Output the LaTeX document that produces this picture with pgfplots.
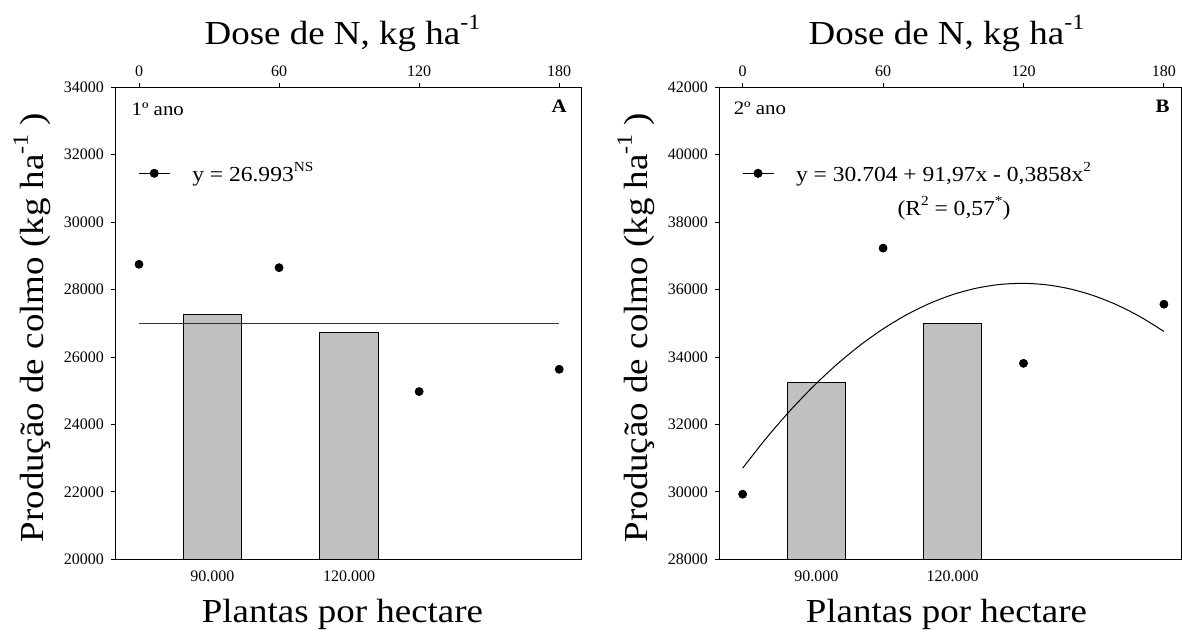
\documentclass[border=0pt]{standalone}
\usepackage{fontspec}
\setmainfont{Liberation Serif}
\newfontfamily\wfont[FakeStretch=1.1]{Liberation Serif}
\usepackage{pgfplots}
\pgfplotsset{compat=1.18}
\definecolor{barfill}{RGB}{192,192,192}
\newcommand\sups[1]{\raisebox{0.45em}{\scalebox{0.65}{#1}}}
\tikzset{biglab/.style={font=\wfont\fontsize{16.8}{20}\selectfont}}
\pgfplotsset{
  panel/.style={scale only axis, width=#1, height=236pt, anchor=south west,
    axis line style={line width=0.5pt, black},
    tick style={line width=0.5pt, black},
    tick align=outside, major tick length=2pt,
    ticklabel style={font=\fontsize{8}{9}\selectfont},
    /pgf/number format/assume math mode=true,
    /pgf/number format/1000 sep={},
    scaled y ticks=false, scaled x ticks=false,
  },
  leg/.style={legend style={at={(rel axis cs:0.049,0.8178)}, anchor=west, draw=none, fill=none,
      font=\wfont\fontsize{10.7}{13}\selectfont, inner sep=0pt, nodes={inner sep=0pt},
      /tikz/every odd column/.append style={column sep=11pt}},
    legend cell align=left,
    legend image code/.code={\draw[mark repeat=2,mark phase=2,##1] plot coordinates {(0pt,0pt)(7.75pt,0pt)(15.5pt,0pt)};}},
}
\begin{document}
\begin{tikzpicture}[x=1pt,y=1pt]
\useasboundingbox (0,0) rectangle (591,316.5);
% ---------- Panel A: bars
\begin{axis}[panel=233.3pt, at={(57.5pt,36.85pt)},
  xmin=0.2865, xmax=3.702, ymin=20000, ymax=34000,
  ytick={20000,22000,...,34000}, ytick pos=left,
  xtick={1,2}, xticklabels={90.000,120.000}, xtick pos=left, x tick style={draw=none},
  xlabel={Plantas por hectare}, xlabel style={biglab, at={(axis description cs:0.4875,-0.134)}, anchor=base},
  ylabel={Produção de colmo (kg ha\sups{-1} )},
  ylabel style={biglab, at={(axis description cs:-0.1543,0.491)}, anchor=base}]
\addplot[ybar, bar width=29.2pt, fill=barfill, draw=black, line width=0.5pt] coordinates {(1,27261) (2,26730)};
\end{axis}
% ---------- Panel A: dose
\begin{axis}[panel=233.3pt, at={(57.5pt,36.85pt)}, leg, clip=false,
  xmin=-10.28, xmax=189.6, ymin=20000, ymax=34000,
  axis x line*=top, axis y line=none,
  xtick={0,60,120,180}]
\addlegendimage{black, line width=0.5pt, mark=*, mark size=2pt}
\addlegendentry{y = 26.993\sups{NS}}
\addplot[black!80, line width=0.5pt, forget plot] coordinates {(0,26993) (180,26993)};
\addplot[only marks, mark=*, mark size=2pt, black, forget plot] coordinates {(0,28750) (60,28650) (120,24975) (180,25636)};
\node[biglab, anchor=base] at (rel axis cs:0.4875,1.0905) {Dose de N, kg ha\sups{-1}};
\node[anchor=base west, font=\wfont\fontsize{9.5}{11}\selectfont] at (rel axis cs:0.0204,0.941) {1º ano};
\node[anchor=base east, font=\wfont\fontsize{9.5}{11}\selectfont\bfseries] at (rel axis cs:0.983,0.9456) {A};
\end{axis}
% ---------- Panel B: bars
\begin{axis}[panel=231pt, at={(359.5pt,36.85pt)},
  xmin=0.2864, xmax=3.675, ymin=28000, ymax=42000,
  ytick={28000,30000,...,42000}, ytick pos=left,
  xtick={1,2}, xticklabels={90.000,120.000}, xtick pos=left, x tick style={draw=none},
  xlabel={Plantas por hectare}, xlabel style={biglab, at={(axis description cs:0.4924,-0.134)}, anchor=base},
  ylabel={Produção de colmo (kg ha\sups{-1} )},
  ylabel style={biglab, at={(axis description cs:-0.1558,0.491)}, anchor=base}]
\addplot[ybar, bar width=29pt, fill=barfill, draw=black, line width=0.5pt] coordinates {(1,33241) (2,34995)};
\end{axis}
% ---------- Panel B: dose
\begin{axis}[panel=231pt, at={(359.5pt,36.85pt)}, leg, clip=false,
  xmin=-10.1, xmax=187.3, ymin=28000, ymax=42000,
  axis x line*=top, axis y line=none,
  xtick={0,60,120,180}]
\addlegendimage{black, line width=0.5pt, mark=*, mark size=2pt}
\addlegendentry{y = 30.704 + 91,97x - 0,3858x\sups{2}}
\addplot[black, line width=0.5pt, smooth, forget plot] coordinates {
(0,30704) (10,31585.1) (20,32389.1) (30,33115.9) (40,33765.5) (50,34338.0)
(60,34833.3) (70,35251.5) (80,35592.5) (90,35856.3) (100,36043.0) (110,36152.5)
(120,36184.9) (130,36140.1) (140,36018.1) (150,35819.0) (160,35542.7) (170,35189.3) (180,34758.6)};
\addplot[only marks, mark=*, mark size=2pt, black, forget plot] coordinates {(0,29931) (60,37230) (120,33813) (180,35567)};
\node[biglab, anchor=base] at (rel axis cs:0.4924,1.0905) {Dose de N, kg ha\sups{-1}};
\node[anchor=base, font=\wfont\fontsize{10.7}{13}\selectfont] at (axis cs:90.3,38212) {(R\sups{2} = 0,57\sups{*})};
\node[anchor=base west, font=\wfont\fontsize{9.5}{11}\selectfont] at (rel axis cs:0.0167,0.943) {2º ano};
\node[anchor=base east, font=\wfont\fontsize{9.5}{11}\selectfont\bfseries] at (rel axis cs:0.9907,0.9456) {B};
\end{axis}
\end{tikzpicture}
\end{document}
